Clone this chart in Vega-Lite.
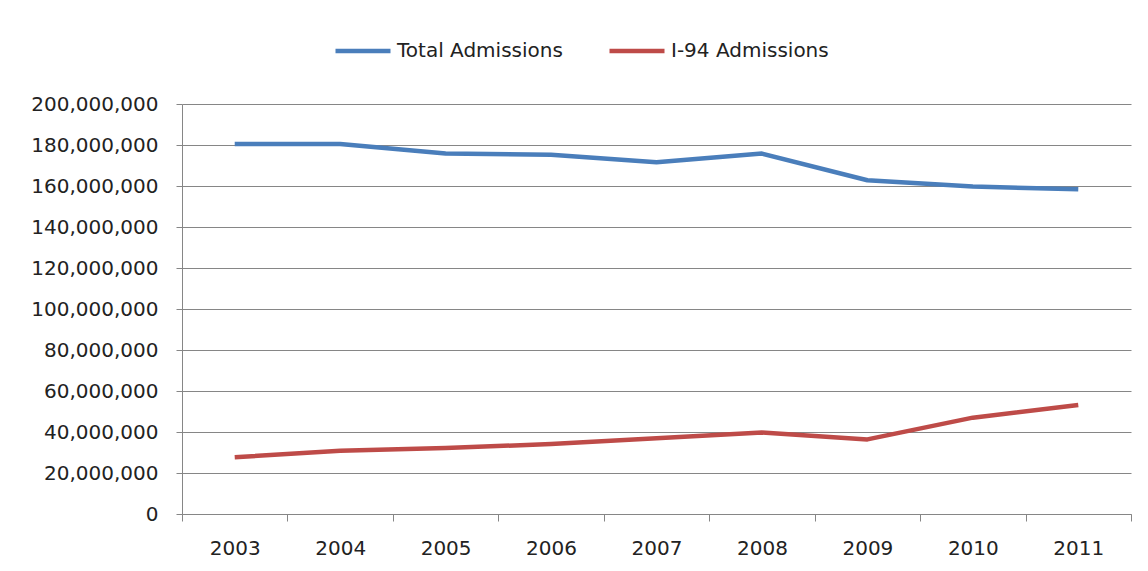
{
  "$schema": "https://vega.github.io/schema/vega-lite/v6.json",
  "autosize": {"type": "none"},
  "width": 949,
  "height": 410,
  "padding": {"left": 182, "top": 104, "right": 17, "bottom": 57},
  "background": "white",
  "data": {
    "values": [
      {"year": "2003", "series": "Total Admissions", "value": 180500000},
      {"year": "2004", "series": "Total Admissions", "value": 180500000},
      {"year": "2005", "series": "Total Admissions", "value": 175800000},
      {"year": "2006", "series": "Total Admissions", "value": 175300000},
      {"year": "2007", "series": "Total Admissions", "value": 171600000},
      {"year": "2008", "series": "Total Admissions", "value": 175800000},
      {"year": "2009", "series": "Total Admissions", "value": 162800000},
      {"year": "2010", "series": "Total Admissions", "value": 159700000},
      {"year": "2011", "series": "Total Admissions", "value": 158400000},
      {"year": "2003", "series": "I-94 Admissions", "value": 27700000},
      {"year": "2004", "series": "I-94 Admissions", "value": 30900000},
      {"year": "2005", "series": "I-94 Admissions", "value": 32200000},
      {"year": "2006", "series": "I-94 Admissions", "value": 34100000},
      {"year": "2007", "series": "I-94 Admissions", "value": 36900000},
      {"year": "2008", "series": "I-94 Admissions", "value": 39700000},
      {"year": "2009", "series": "I-94 Admissions", "value": 36400000},
      {"year": "2010", "series": "I-94 Admissions", "value": 47000000},
      {"year": "2011", "series": "I-94 Admissions", "value": 53200000}
    ]
  },
  "mark": {"type": "line", "strokeWidth": 4.5, "strokeCap": "butt", "strokeJoin": "round"},
  "encoding": {
    "x": {
      "field": "year",
      "type": "ordinal",
      "bandPosition": 0.5,
      "scale": {"type": "band", "paddingInner": 0, "paddingOuter": 0},
      "axis": {
        "title": null,
        "labelAngle": 0,
        "tickBand": "extent",
        "grid": false,
        "domainColor": "#868686",
        "tickColor": "#868686",
        "tickSize": 7,
        "labelFontSize": 20,
        "labelFont": "DejaVu Sans",
        "labelColor": "#222222",
        "labelPadding": 17
      }
    },
    "y": {
      "field": "value",
      "type": "quantitative",
      "scale": {"domain": [0, 200000000], "nice": false},
      "axis": {
        "title": null,
        "values": [0, 20000000, 40000000, 60000000, 80000000, 100000000, 120000000, 140000000, 160000000, 180000000, 200000000],
        "format": ",.0f",
        "grid": true,
        "gridColor": "#868686",
        "gridWidth": 1,
        "domainColor": "#868686",
        "tickColor": "#868686",
        "tickSize": 6,
        "labelFontSize": 20,
        "labelFont": "DejaVu Sans",
        "labelColor": "#222222",
        "labelPadding": 18
      }
    },
    "color": {
      "field": "series",
      "type": "nominal",
      "scale": {"domain": ["Total Admissions", "I-94 Admissions"], "range": ["#4a7ebb", "#be4b48"]},
      "legend": {
        "title": null,
        "orient": "none",
        "direction": "horizontal",
        "legendX": 151,
        "legendY": -83,
        "symbolType": "stroke",
        "symbolSize": 3025,
        "symbolStrokeWidth": 4.5,
        "labelFontSize": 20,
        "labelFont": "DejaVu Sans",
        "labelColor": "#222222",
        "labelOffset": 4,
        "labelLimit": 400,
        "columnPadding": 37
      }
    }
  },
  "config": {"view": {"stroke": null}}
}
